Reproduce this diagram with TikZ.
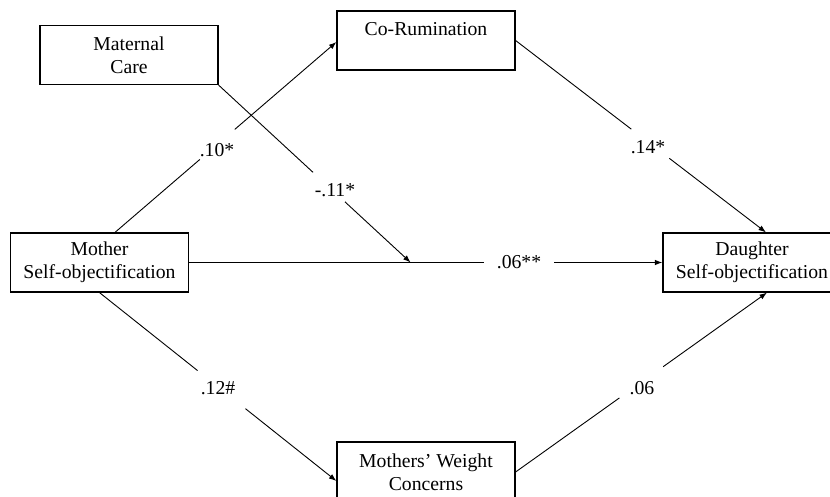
\documentclass[tikz,border=0pt]{standalone}
\usepackage{fontspec}
\setmainfont{Liberation Serif}
\usetikzlibrary{calc,arrows.meta}
\begin{document}
\begin{tikzpicture}[x=1pt,y=-1pt,
  box/.style={draw, line width=1.2pt, minimum width=178pt, minimum height=59pt,
    align=center, inner sep=0pt, font=\fontsize{19.7}{23.3}\selectfont},
  lbl/.style={inner sep=0pt, font=\fontsize{19.7}{23.3}\selectfont},
  conn/.style={line width=0.9pt},
  arr/.style={conn, -{Latex[length=7.5pt,width=5.5pt]}}]
\useasboundingbox (0,0) rectangle (830,497);
\fill[white] (0,0) rectangle (830,497);

\node[box] (maternal) at (129,55) {Maternal\\Care};
\node[box] (corum) at (426,40.5) {Co-Rumination\\\phantom{Care}};
\node[box] (mother) at (99.5,262.5) {Mother\\Self-objectification};
\node[box] (daughter) at (752,262.5) {Daughter\\Self-objectification};
\node[box, minimum height=60pt] (weight) at (426,472) {Mothers’ Weight\\Concerns};

% Mother -> Co-Rumination
\coordinate (m1) at ([xshift=15.5pt]mother.north);
\coordinate (c1) at ([yshift=-1.5pt]corum.west);
\draw[conn] (m1) -- ($(m1)!0.383!(c1)$);
\draw[arr] ($(m1)!0.541!(c1)$) -- (c1);
\node[lbl] (l10) at (217,150) {.10*};

% Maternal Care -> moderation point
\coordinate (mod) at ($(mother.east)!0.468!(daughter.west)$);
\draw[conn] (maternal.south east) -- ($(maternal.south east)!0.492!(mod)$);
\draw[arr] ($(maternal.south east)!0.658!(mod)$) -- (mod);
\node[lbl] (l11) at (335,190) {-.11*};

% Mother -> Daughter
\draw[conn] (mother.east) -- ($(mother.east)!0.624!(daughter.west)$);
\draw[arr] ($(mother.east)!0.772!(daughter.west)$) -- (daughter.west);
\node[lbl] (l06a) at (519,262.5) {.06**};

% Co-Rumination -> Daughter
\coordinate (d1) at ([xshift=14pt]daughter.north);
\draw[conn] (corum.east) -- ($(corum.east)!0.462!(d1)$);
\draw[arr] ($(corum.east)!0.614!(d1)$) -- (d1);
\node[lbl] (l14) at (648,147) {.14*};

% Mother -> Weight Concerns
\coordinate (w1) at ([yshift=-9pt]weight.west);
\draw[conn] (mother.south) -- ($(mother.south)!0.414!(w1)$);
\draw[arr] ($(mother.south)!0.616!(w1)$) -- (w1);
\node[lbl] (l12) at (218,388) {.12\#};

% Weight Concerns -> Daughter
\coordinate (d2) at ([xshift=15pt]daughter.south);
\draw[conn] (weight.east) -- ($(weight.east)!0.413!(d2)$);
\draw[arr] ($(weight.east)!0.587!(d2)$) -- (d2);
\node[lbl] (l06b) at (642,388) {.06};
\end{tikzpicture}
\end{document}
